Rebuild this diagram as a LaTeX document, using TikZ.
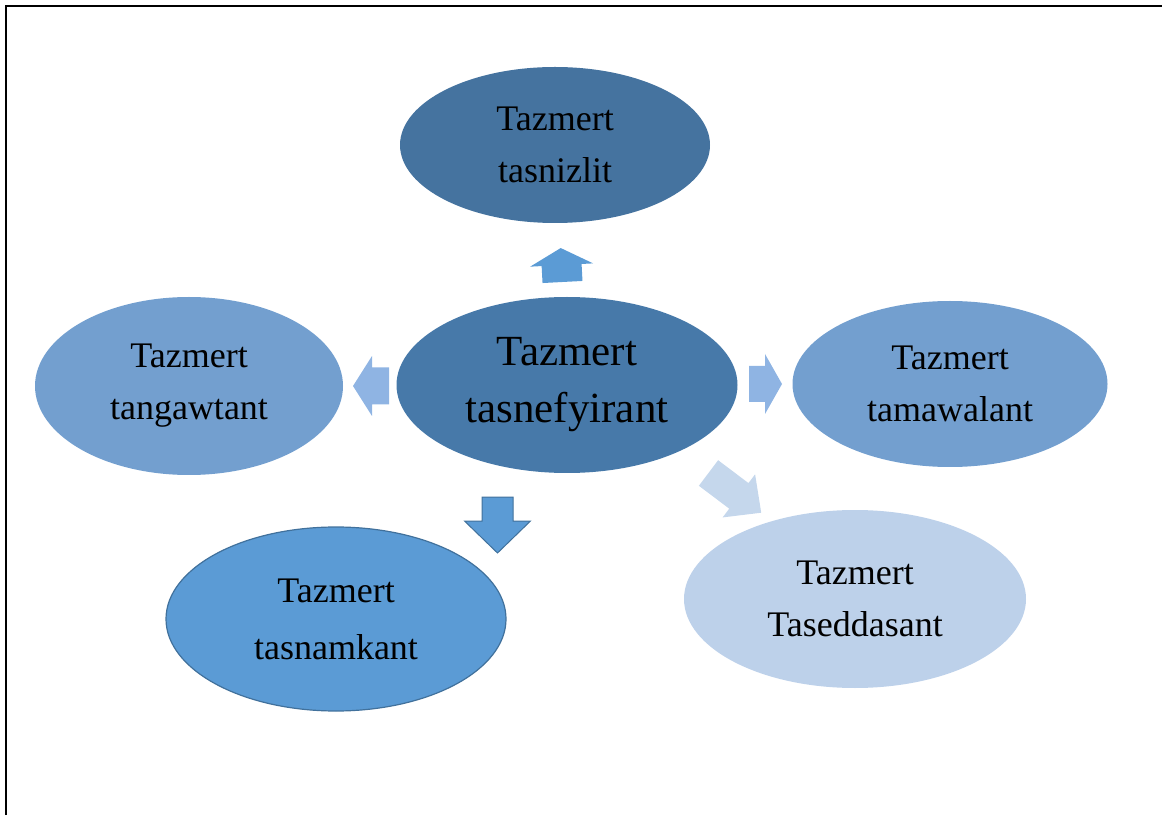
\documentclass[tikz,border=0pt]{standalone}
\usepackage{fontspec}
\setmainfont{Liberation Serif}
\usetikzlibrary{shapes.geometric}
\definecolor{cTop}{HTML}{45739F}
\definecolor{cCen}{HTML}{4779A9}
\definecolor{cSide}{HTML}{739FCF}
\definecolor{cBL}{HTML}{5B9BD5}
\definecolor{cBLb}{HTML}{41719C}
\definecolor{cBR}{HTML}{BDD1EA}
\definecolor{cArrS}{HTML}{8FB4E3}
\definecolor{cArrD}{HTML}{C5D7EC}
\newcommand\blockarr[8]{%
\begin{scope}[shift={#2}, rotate=#3]
\path[#8] (0,-#5/2) -- ({#4-#7},-#5/2) -- ({#4-#7},-#6/2) -- (#4,0) -- ({#4-#7},#6/2) -- ({#4-#7},#5/2) -- (0,#5/2) -- cycle;
\coordinate (#1) at (#4/2,0);
\end{scope}}
\begin{document}
\begin{tikzpicture}[x=1pt,y=1pt,
  bubble/.style={ellipse, inner sep=0pt, align=center, font=\fontsize{36}{52}\selectfont},
]
\useasboundingbox (0,0) rectangle (1162,815);
\draw[line width=2pt] (6,0) -- (6,809) -- (1162,809);
\node[bubble, fill=cTop, minimum width=310, minimum height=156] (top) at (555,670) {Tazmert\\tasnizlit};
\node[bubble, fill=cCen, minimum width=341, minimum height=176, font=\fontsize{43}{57}\selectfont] (cen) at (567,430) {Tazmert\\tasnefyirant};
\node[bubble, fill=cSide, minimum width=308, minimum height=178] (left) at (189,429) {Tazmert\\tangawtant};
\node[bubble, fill=cSide, minimum width=315, minimum height=166] (right) at (950,431) {Tazmert\\tamawalant};
\node[bubble, fill=cBL, draw=cBLb, line width=1.2pt, minimum width=340, minimum height=184, font=\fontsize{36}{57}\selectfont] (bl) at (336,196) {Tazmert\\tasnamkant};
\node[bubble, fill=cBR, minimum width=342, minimum height=178] (br) at (855,216) {Tazmert\\Taseddasant};
\blockarr{aup}{(562.5,533)}{93}{34}{40}{63}{17}{fill=cBL}
\blockarr{aleft}{(389,429)}{180}{36}{37}{60}{19}{fill=cArrS}
\blockarr{aright}{(749,431)}{0}{33}{36}{60}{17}{fill=cArrS}
\blockarr{adown}{(497.5,318)}{-90}{56}{31}{66}{32}{fill=cBL, draw=cBLb, line width=1pt}
\blockarr{adiag}{(708.5,342)}{-37}{66}{32}{54}{28}{fill=cArrD}
\end{tikzpicture}
\end{document}
